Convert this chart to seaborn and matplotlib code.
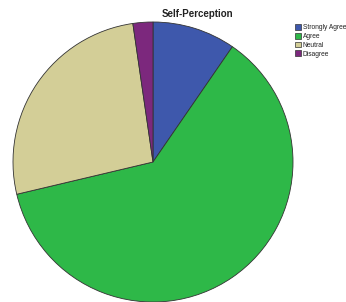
"""
Pie chart of the self-perception answers
"""
# %% IMPORT LIBRARIES
import matplotlib
matplotlib.use("Agg")
import matplotlib.pyplot as plt
import seaborn as sns
from matplotlib.patches import Patch

sns.set_style("white")
plt.rcParams['font.family'] = ['Liberation Sans', 'DejaVu Sans']

# Data (percent of answers)
answers = ["Strongly Agree", "Agree", "Neutral", "Disagree"]
shares = [9.6, 61.7, 26.4, 2.3]
colours = ["#3e58ac", "#2eb848", "#d3ce97", "#7c287d"]

# %% Plot
fig = plt.figure(figsize=(3.46, 3.02), dpi=100)
ax = fig.add_axes([13 / 346, 0.0, 280 / 346, 280 / 302])
ax.pie(shares, colors=colours, startangle=90, counterclock=False,
       wedgeprops={"edgecolor": "#333333", "linewidth": 0.6})
ax.set_xlim(-1, 1)
ax.set_ylim(-1, 1)
ax.set_aspect("equal")

fig.text(197 / 346, 1 - 14 / 302, "Self-Perception", ha="center", va="center",
         fontsize=7, fontweight="bold", color="#222222")

handles = [Patch(facecolor=c, edgecolor="#333333", linewidth=0.5) for c in colours]
leg = fig.legend(handles, answers, loc="upper left",
                 bbox_to_anchor=(290 / 346, 1 - 19 / 302),
                 fontsize=4.8, frameon=False, handlelength=0.9, handleheight=1.0,
                 handletextpad=0.3, labelspacing=0.25, borderpad=0.2)
for t in leg.get_texts():
    t.set_color("#222222")

plt.savefig("out.png", dpi=100)
